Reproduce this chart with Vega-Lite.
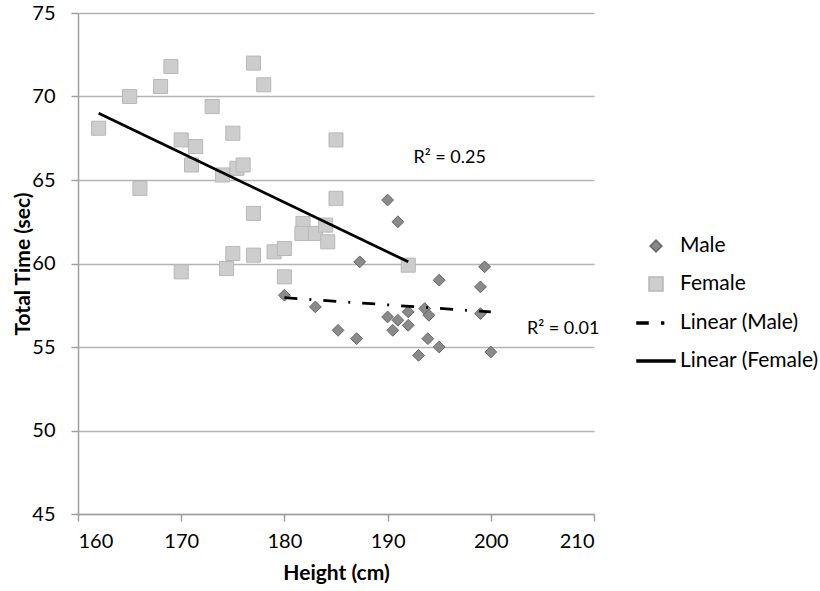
{
  "$schema": "https://vega.github.io/schema/vega-lite/v6.json",
  "width": 516,
  "height": 501,
  "autosize": {"type": "none"},
  "padding": {"left": 78, "top": 13, "right": 226, "bottom": 77},
  "background": "white",
  "config": {
    "view": {"stroke": null},
    "font": "Lato",
    "axis": {
      "labelFont": "Lato",
      "labelFontSize": 20,
      "labelColor": "#000000",
      "titleFont": "Lato",
      "titleFontSize": 21,
      "titleFontWeight": "bold",
      "titleColor": "#000000",
      "domainColor": "#a0a0a0",
      "domainWidth": 1.5,
      "tickColor": "#a0a0a0",
      "tickWidth": 1.5,
      "tickSize": 7,
      "gridColor": "#b4b4b4",
      "gridWidth": 1.5
    },
    "legend": {
      "labelFont": "Lato",
      "labelFontSize": 21,
      "labelColor": "#000000"
    }
  },
  "datasets": {
    "points": [
      {"series": "Female", "height": 162, "time": 68.1},
      {"series": "Female", "height": 165, "time": 70.0},
      {"series": "Female", "height": 166, "time": 64.5},
      {"series": "Female", "height": 168, "time": 70.6},
      {"series": "Female", "height": 169, "time": 71.8},
      {"series": "Female", "height": 170, "time": 67.4},
      {"series": "Female", "height": 170, "time": 59.5},
      {"series": "Female", "height": 171.4, "time": 67.0},
      {"series": "Female", "height": 171, "time": 65.9},
      {"series": "Female", "height": 173, "time": 69.4},
      {"series": "Female", "height": 174, "time": 65.3},
      {"series": "Female", "height": 175, "time": 67.8},
      {"series": "Female", "height": 175.4, "time": 65.7},
      {"series": "Female", "height": 176, "time": 65.9},
      {"series": "Female", "height": 177, "time": 72.0},
      {"series": "Female", "height": 178, "time": 70.7},
      {"series": "Female", "height": 177, "time": 63.0},
      {"series": "Female", "height": 174.4, "time": 59.7},
      {"series": "Female", "height": 175, "time": 60.6},
      {"series": "Female", "height": 177, "time": 60.5},
      {"series": "Female", "height": 179, "time": 60.7},
      {"series": "Female", "height": 180, "time": 60.9},
      {"series": "Female", "height": 180, "time": 59.2},
      {"series": "Female", "height": 181.8, "time": 62.4},
      {"series": "Female", "height": 181.7, "time": 61.8},
      {"series": "Female", "height": 183, "time": 61.8},
      {"series": "Female", "height": 184, "time": 62.3},
      {"series": "Female", "height": 184.2, "time": 61.3},
      {"series": "Female", "height": 185, "time": 67.4},
      {"series": "Female", "height": 185, "time": 63.9},
      {"series": "Female", "height": 192, "time": 59.9},
      {"series": "Male", "height": 180, "time": 58.1},
      {"series": "Male", "height": 183, "time": 57.4},
      {"series": "Male", "height": 185.2, "time": 56.0},
      {"series": "Male", "height": 187, "time": 55.5},
      {"series": "Male", "height": 187.3, "time": 60.1},
      {"series": "Male", "height": 190, "time": 63.8},
      {"series": "Male", "height": 191, "time": 62.5},
      {"series": "Male", "height": 190, "time": 56.8},
      {"series": "Male", "height": 190.5, "time": 56.0},
      {"series": "Male", "height": 191, "time": 56.6},
      {"series": "Male", "height": 192, "time": 57.1},
      {"series": "Male", "height": 192, "time": 56.3},
      {"series": "Male", "height": 193, "time": 54.5},
      {"series": "Male", "height": 193.6, "time": 57.3},
      {"series": "Male", "height": 194, "time": 56.9},
      {"series": "Male", "height": 193.9, "time": 55.5},
      {"series": "Male", "height": 195, "time": 59.0},
      {"series": "Male", "height": 195, "time": 55.0},
      {"series": "Male", "height": 199, "time": 58.6},
      {"series": "Male", "height": 199, "time": 57.0},
      {"series": "Male", "height": 199.4, "time": 59.8},
      {"series": "Male", "height": 200, "time": 54.7}
    ],
    "trends": [
      {"series": "Linear (Male)", "height": 180, "time": 57.95},
      {"series": "Linear (Male)", "height": 200, "time": 57.1},
      {"series": "Linear (Female)", "height": 162, "time": 69.0},
      {"series": "Linear (Female)", "height": 192, "time": 60.1}
    ],
    "labels": [
      {"label": "R² = 0.25", "height": 192.5, "time": 66.3},
      {"label": "R² = 0.01", "height": 203.5, "time": 56.1}
    ]
  },
  "layer": [
    {
      "data": {"name": "points"},
      "mark": {"type": "point", "filled": true, "opacity": 1, "size": 1444, "strokeWidth": 1},
      "encoding": {
        "x": {
          "field": "height",
          "type": "quantitative",
          "scale": {"domain": [160, 210], "nice": false},
          "axis": {
            "values": [160, 170, 180, 190, 200, 210],
            "grid": false,
            "title": "Height (cm)",
            "labelPadding": 10,
            "titlePadding": 11
          }
        },
        "y": {
          "field": "time",
          "type": "quantitative",
          "scale": {"domain": [45, 75], "nice": false},
          "axis": {
            "values": [45, 50, 55, 60, 65, 70, 75],
            "grid": true,
            "title": "Total Time (sec)",
            "labelPadding": 16,
            "titleX": -45
          }
        },
        "shape": {
          "field": "series",
          "type": "nominal",
          "scale": {
            "domain": ["Male", "Female", "Linear (Male)", "Linear (Female)"],
            "range": [
              "M-0.31,0L0,-0.31L0.31,0L0,0.31Z",
              "M-0.37,-0.37H0.37V0.37H-0.37Z",
              "M-1,-0.05H-0.42V0.05H-1Z M0.3,-0.05H0.4V0.05H0.3Z",
              "M-1,-0.05H1V0.05H-1Z"
            ]
          },
          "legend": {
            "title": null,
            "orient": "none",
            "legendX": 558,
            "legendY": 213,
            "padding": 0,
            "rowPadding": 8,
            "labelOffset": 4,
            "symbolSize": 1444
          }
        },
        "fill": {
          "field": "series",
          "type": "nominal",
          "scale": {
            "domain": ["Male", "Female", "Linear (Male)", "Linear (Female)"],
            "range": ["#8a8a8a", "#cdcdcd", "#000000", "#000000"]
          }
        },
        "stroke": {
          "field": "series",
          "type": "nominal",
          "scale": {
            "domain": ["Male", "Female", "Linear (Male)", "Linear (Female)"],
            "range": ["#666666", "#b8b8b8", "#000000", "#000000"]
          }
        }
      }
    },
    {
      "data": {"name": "trends"},
      "transform": [{"filter": "datum.series === 'Linear (Female)'"}],
      "mark": {"type": "line", "color": "#000000", "strokeWidth": 2.75},
      "encoding": {
        "x": {"field": "height", "type": "quantitative"},
        "y": {"field": "time", "type": "quantitative"}
      }
    },
    {
      "data": {"name": "trends"},
      "transform": [{"filter": "datum.series === 'Linear (Male)'"}],
      "mark": {"type": "line", "color": "#000000", "strokeWidth": 2.75, "strokeDash": [13, 12, 2, 12]},
      "encoding": {
        "x": {"field": "height", "type": "quantitative"},
        "y": {"field": "time", "type": "quantitative"}
      }
    },
    {
      "data": {"name": "labels"},
      "mark": {"type": "text", "align": "left", "baseline": "middle", "fontSize": 18, "font": "Lato", "color": "#000000"},
      "encoding": {
        "x": {"field": "height", "type": "quantitative"},
        "y": {"field": "time", "type": "quantitative"},
        "text": {"field": "label", "type": "nominal"}
      }
    }
  ]
}
